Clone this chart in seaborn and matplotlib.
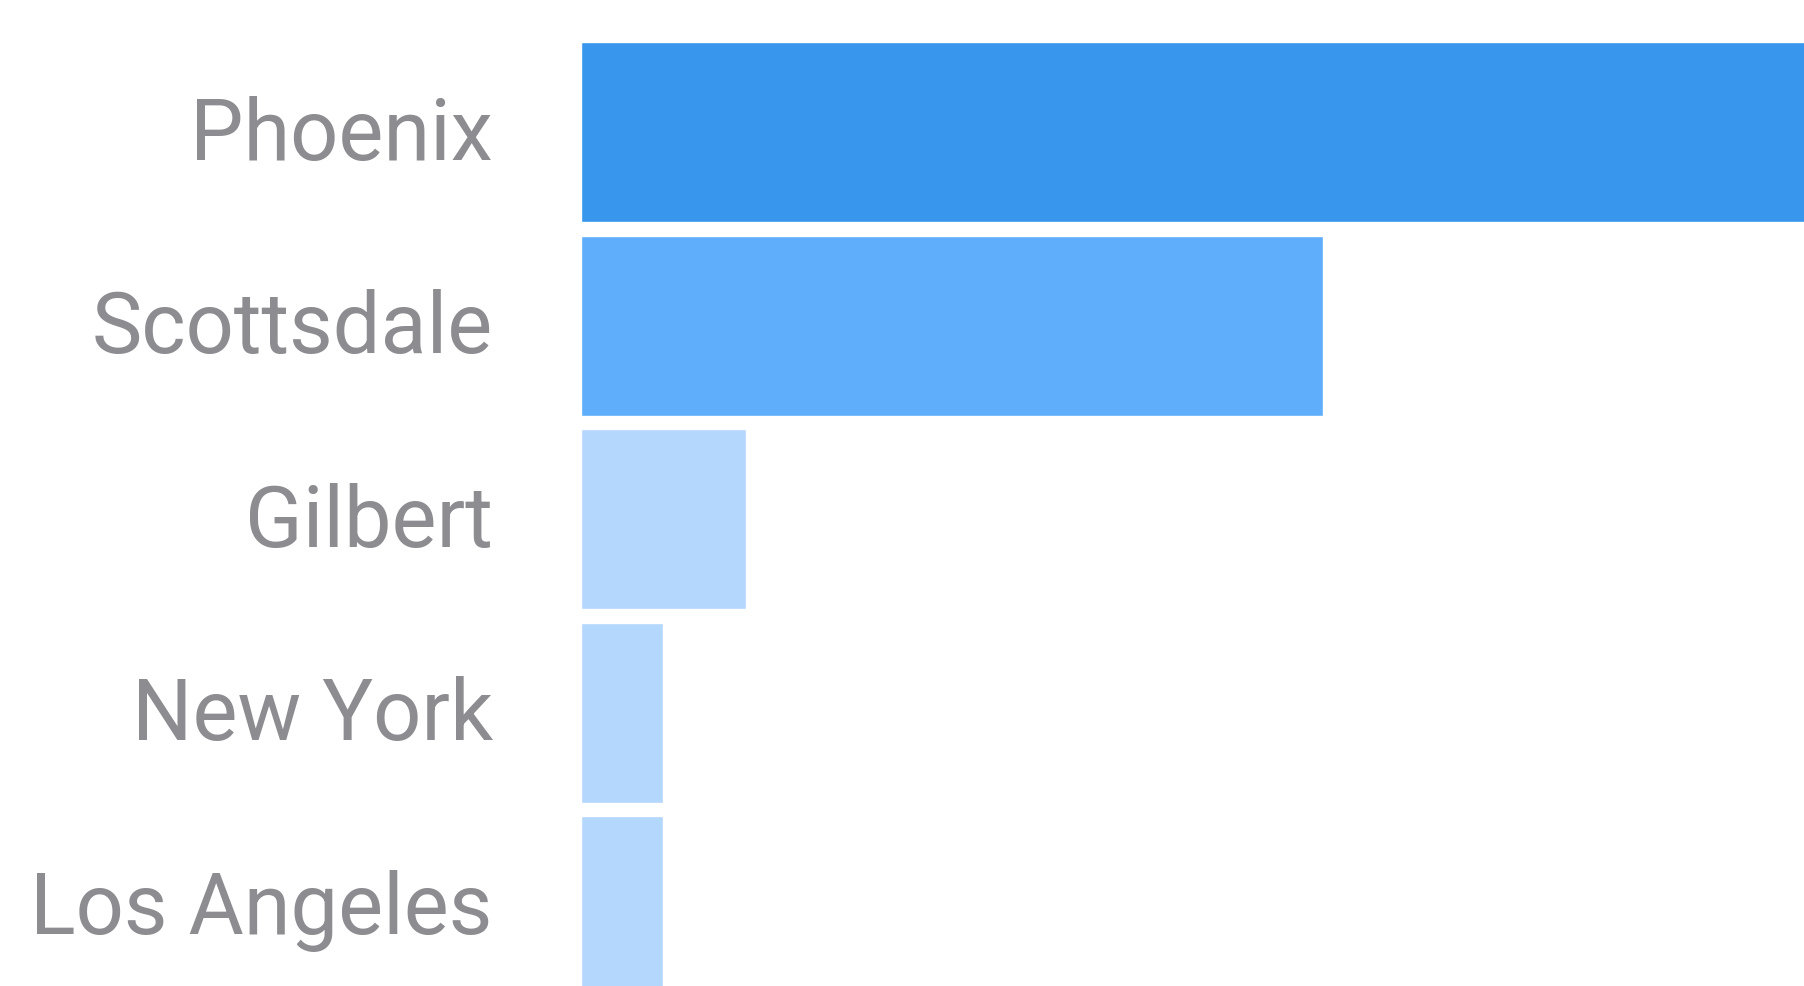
import matplotlib.pyplot as plt
import matplotlib.transforms as mtransforms
import seaborn as sns
import pandas as pd

# Dados
cidades = ["Phoenix", "Scottsdale", "Gilbert", "New York", "Los Angeles"]
quantidade = [15, 9, 2, 1, 1]
cores = ["#3896ec", "#5eaefc", "#b3d7fd", "#b3d7fd", "#b3d7fd"]

df = pd.DataFrame({"Cidade": cidades, "Quantidade": quantidade})

sns.set_style("white")
plt.rcParams['font.family'] = ['Roboto', 'DejaVu Sans']

fig = plt.figure(figsize=(18.04, 9.87), dpi=100)
ax = fig.add_axes([581 / 1804, 0, 1223 / 1804, 1])

sns.barplot(data=df, x="Quantidade", y="Cidade", hue="Cidade", palette=cores,
            orient="h", width=0.93, legend=False, ax=ax, saturation=1)

ax.set_xlim(0, 14.83)
ax.set_ylim(4.412, -0.689)
ax.set_xlabel("")
ax.set_ylabel("")
ax.set_xticks([])
sns.despine(ax=ax, left=True, bottom=True, right=True, top=True)
ax.tick_params(axis="y", length=0, pad=63.5, labelsize=61, labelcolor="#8c8c91")

# sobe um pouco os rótulos
deslocamento = mtransforms.ScaledTranslation(0, 4 / 72, fig.dpi_scale_trans)
for rotulo in ax.get_yticklabels():
    rotulo.set_transform(rotulo.get_transform() + deslocamento)

plt.savefig("out.png", dpi=100)
